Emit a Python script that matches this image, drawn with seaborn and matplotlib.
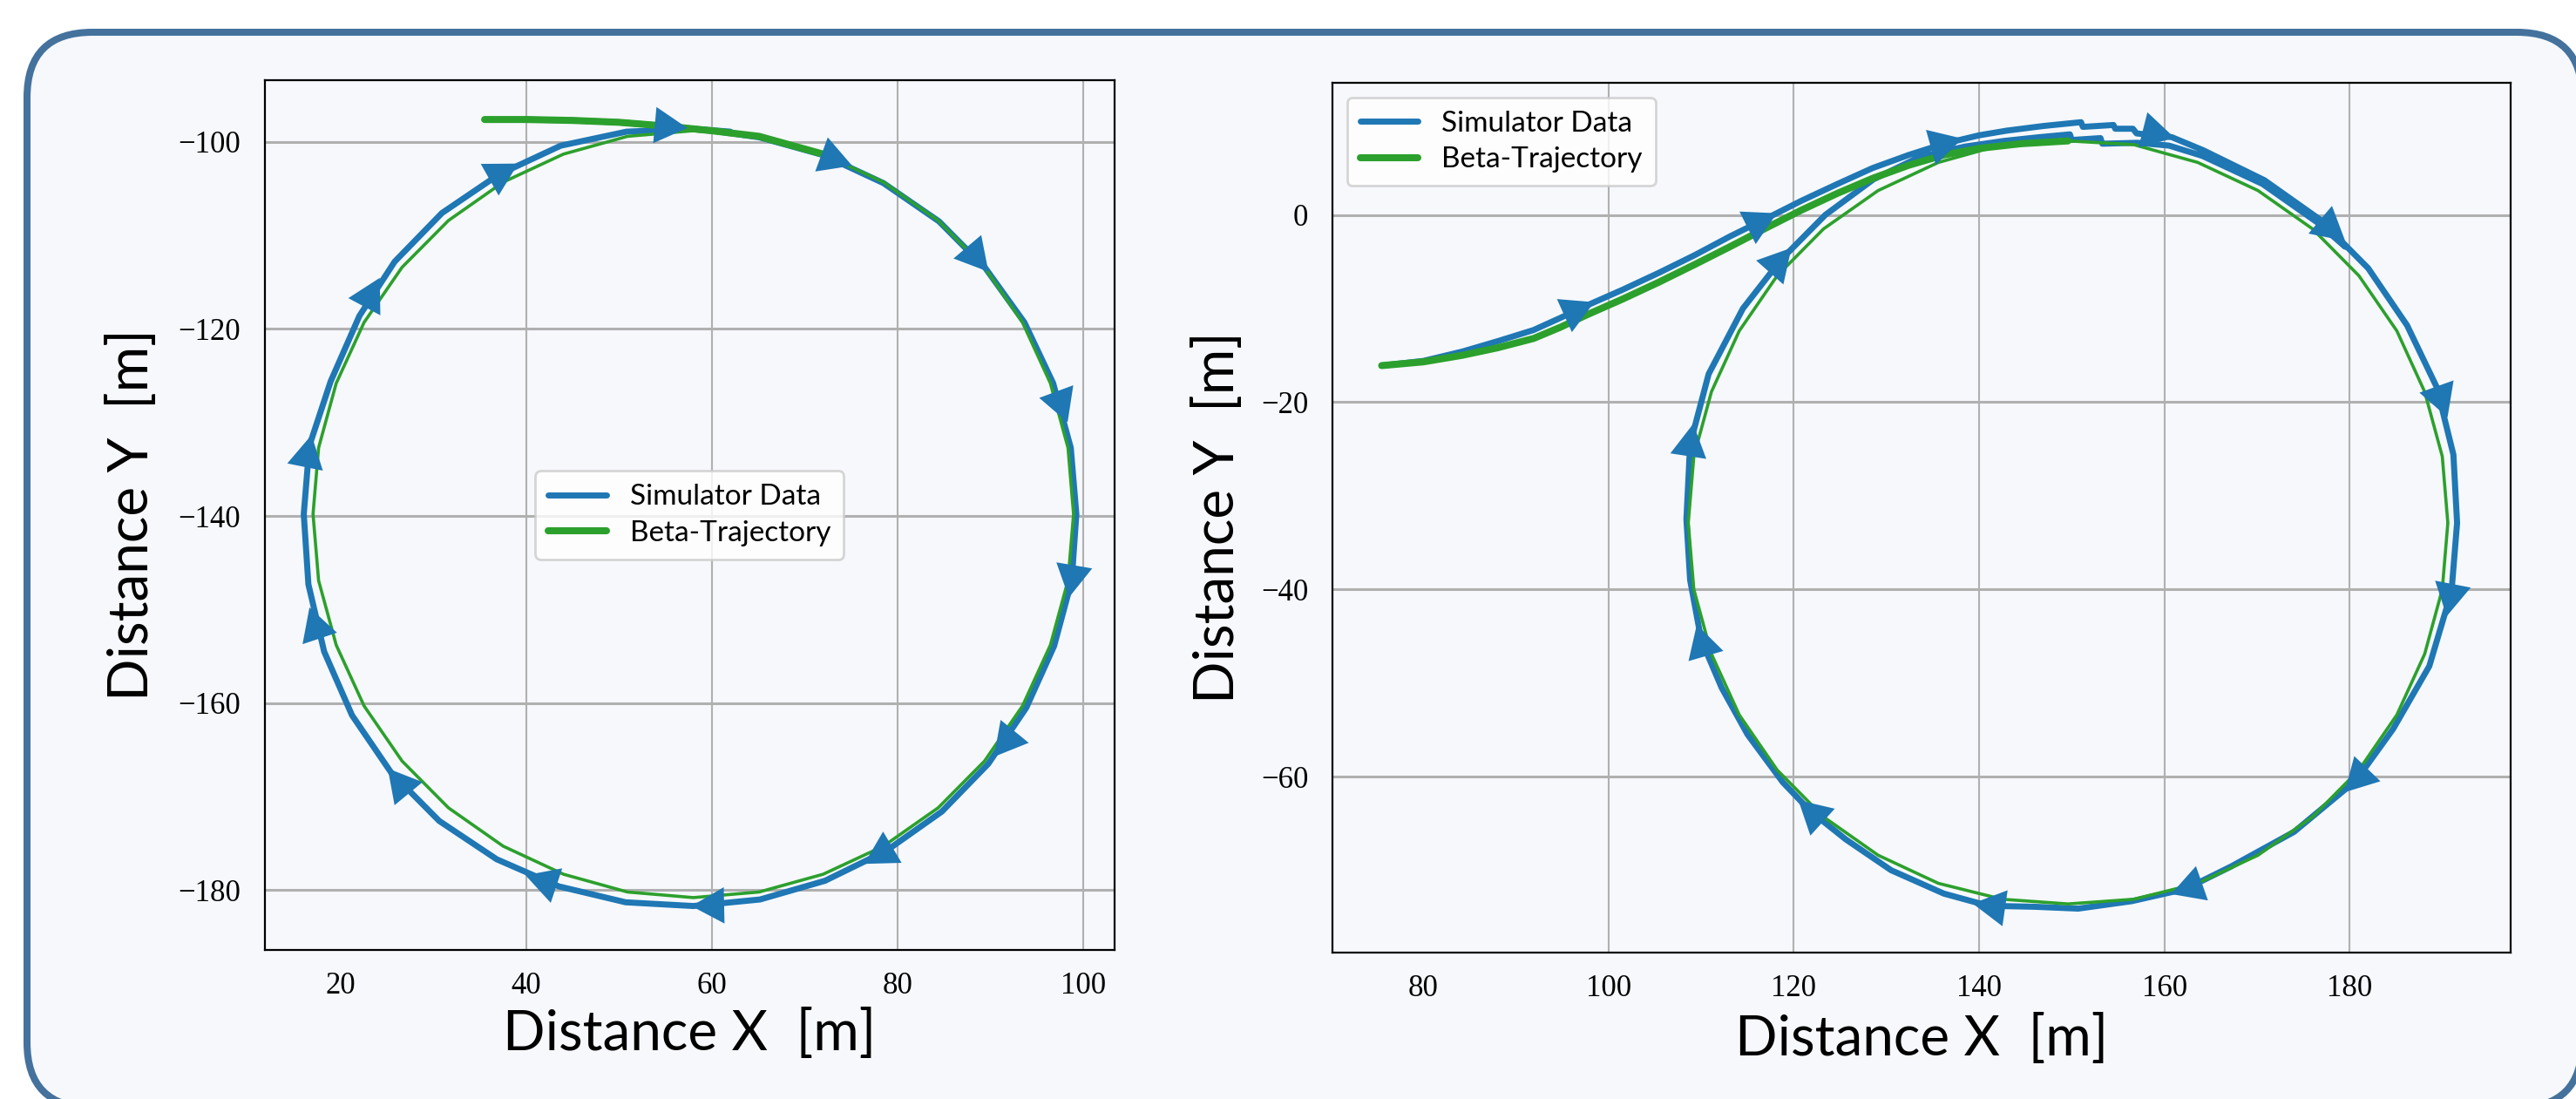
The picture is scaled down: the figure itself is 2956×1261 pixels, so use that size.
import numpy as np
import matplotlib.pyplot as plt
from matplotlib.patches import FancyBboxPatch
import seaborn as sns

BLUE = "#1f77b4"
GREEN = "#2ca02c"
PANEL = "#f6f8fc"
FRAME = "#44729d"

# ---- left run (closed loop, start at top) ----
left_sim_x = [40, 45, 50, 55, 60, 65.1, 72.0, 78.5, 84.5, 89.5, 93.7, 96.8, 98.7, 99.3,
              98.8, 96.9, 93.9, 89.8, 84.8, 78.8, 72.2, 65.2, 58.0, 50.7, 43.5, 36.8,
              30.6, 25.4, 21.2, 18.2, 16.5, 16.0, 16.6, 18.9, 22.0, 25.8, 30.9, 37.0,
              43.7, 50.8, 58.0, 62.0]
left_sim_y = [-97.6, -97.7, -97.9, -98.3, -98.8, -99.5, -101.4, -104.4, -108.5, -113.5,
              -119.3, -125.8, -132.7, -139.8, -146.9, -153.9, -160.5, -166.5, -171.6,
              -175.8, -179.0, -181.0, -181.7, -181.3, -179.6, -176.7, -172.6, -167.4,
              -161.3, -154.5, -147.3, -139.8, -132.5, -125.6, -118.6, -112.8, -107.6,
              -103.5, -100.4, -98.9, -98.6, -98.9]

left_beta_x = [35.5, 40, 45, 50, 55, 60, 65.1, 72.0,
               78.5, 84.4, 89.4, 93.5, 96.5, 98.4, 99.0, 98.4, 96.5, 93.5, 89.4, 84.4,
               78.5, 72.0, 65.1, 58.0, 50.9, 44.0, 37.5, 31.6, 26.6, 22.5, 19.5, 17.6,
               17.0, 17.6, 19.5, 22.5, 26.6, 31.6, 37.5, 44.0, 50.9, 58.0, 65.1]
left_beta_y = [-97.6, -97.6, -97.7, -97.9, -98.3, -98.8, -99.4, -101.3,
               -104.3, -108.4, -113.4, -119.3, -125.8, -132.7, -139.8, -146.9, -153.8,
               -160.3, -166.2, -171.2, -175.3, -178.3, -180.2, -180.8, -180.2, -178.3,
               -175.3, -171.2, -166.2, -160.3, -153.8, -146.9, -139.8, -132.7, -125.8,
               -119.3, -113.4, -108.4, -104.3, -101.3, -99.4, -98.8, -99.4]
left_beta_lead = 8

left_arrow_x = [55.7, 73.7, 88.7, 97.7, 98.5, 91.6, 77.7, 59.5, 41.5, 26.5, 17.7, 16.5, 23.7, 38.0]
left_arrow_y = [-98.0, -101.5, -112.6, -128.4, -147.0, -164.5, -176.0, -181.7, -179.0,
                -168.0, -151.2, -133.0, -116.2, -103.8]

left_xticks = [20, 40, 60, 80, 100]
left_yticks = [-180, -160, -140, -120, -100]

# ---- right run (S-shaped approach, then one lap) ----
right_sim_x = [75.5, 80, 84.2, 88, 91.9, 94.8, 97.6, 101.5, 105.4, 109.3, 113.1, 117, 120.8,
               124.7, 128.5, 132.4, 136.2, 140, 143, 147, 151, 151.2, 154.5, 154.7, 156.6,
               157, 160.8, 164.2, 170.8, 176.8, 182.0, 186.2, 189.4, 191.2, 191.6, 191.0,
               188.6, 184.7, 180.7, 174.0, 167.2, 162.3, 156.5, 150.7, 145.9, 141.0, 136.2,
               130.5, 125.6, 121.8, 118.8, 115.0, 112.2, 110.0, 108.8, 108.4, 108.8, 110.8,
               114.5, 118.6, 123.4, 128.6, 133.6, 138.5, 142.7, 146.5, 149.8, 150.0, 153.1,
               153.3, 157.1, 160.5, 164.1, 170.6, 176.5, 179.5]
right_sim_y = [-16.1, -15.6, -14.6, -13.5, -12.3, -11.0, -9.7, -8.0, -6.2, -4.3, -2.3, -0.4,
               1.5, 3.3, 5.0, 6.4, 7.6, 8.5, 9.0, 9.5, 9.9, 9.4, 9.6, 9.2, 9.2, 8.7, 8.3,
               6.9, 3.7, -0.5, -5.7, -11.8, -18.4, -25.6, -32.9, -40.2, -48.2, -54.9, -60.4,
               -65.9, -69.6, -72.0, -73.3, -74.1, -73.9, -73.8, -72.5, -70.0, -66.7, -63.7,
               -60.6, -55.5, -50.5, -45.4, -39.0, -32.5, -24.5, -17.0, -10.0, -4.8, 0.0, 3.8,
               6.2, 7.3, 7.9, 8.3, 8.6, 8.0, 8.2, 7.6, 7.7, 7.4, 6.3, 3.3, -0.8, -3.4]

right_beta_x = [75.5, 80, 84.2, 88, 91.9, 94.8, 97.6, 101.5, 105.4, 109.3, 113.1, 117, 120.8,
                124.7, 128.5, 132.4, 136.2, 140, 144.5, 149.6,
                156.7, 163.6, 170.1, 176.0, 181.0, 185.1, 188.1, 190.0, 190.6, 190.0, 188.1,
                185.1, 181.0, 176.0, 170.1, 163.6, 156.7, 149.6, 142.5, 135.6, 129.1, 123.2,
                118.2, 114.1, 111.1, 109.2, 108.6, 109.2, 111.1, 114.1, 118.2, 123.2, 129.1,
                135.6, 142.5, 149.6]
right_beta_y = [-16.1, -15.7, -15.0, -14.2, -13.2, -12.0, -10.7, -9.0, -7.2, -5.3, -3.4, -1.4,
                0.5, 2.3, 3.9, 5.3, 6.4, 7.1, 7.6, 7.9,
                7.5, 5.6, 2.6, -1.5, -6.5, -12.4, -18.9, -25.8, -32.9, -40.0, -46.9, -53.4,
                -59.3, -64.3, -68.4, -71.4, -73.1, -73.6, -73.1, -71.4, -68.4, -64.3, -59.3,
                -53.4, -46.9, -40.0, -32.9, -25.8, -18.9, -12.4, -6.5, -1.5, 2.6, 5.6, 7.5, 7.9]
right_beta_lead = 20

right_arrow_x = [97.2, 116.8, 136.8, 159.4, 178.2, 189.5, 190.3, 180.6, 162.3, 141.0, 121.8,
                 110.0, 108.9, 118.6]
right_arrow_y = [-10.7, -0.9, 6.8, 8.4, -1.7, -20.2, -41.1, -60.4, -71.9, -73.7, -63.6,
                 -45.4, -24.0, -4.8]

right_xticks = [80, 100, 120, 140, 160, 180]
right_yticks = [-60, -40, -20, 0]

sns.set_theme(style="whitegrid")
plt.rcParams.update({
    "figure.facecolor": "white",
    "axes.facecolor": PANEL,
    "axes.edgecolor": "black",
    "axes.linewidth": 0.8,
    "axes.labelcolor": "black",
    "text.color": "black",
    "xtick.color": "black",
    "ytick.color": "black",
    "grid.color": "#b0b0b0",
    "axes.unicode_minus": True,
})
plt.rcParams["font.family"] = ["Lato", "DejaVu Sans"]


def add_arrows(ax, path_x, path_y, at_x, at_y):
    pts = np.column_stack([path_x, path_y]).astype(float)
    for x, y in zip(at_x, at_y):
        i = int(np.argmin(np.hypot(pts[:, 0] - x, pts[:, 1] - y)))
        a = pts[max(i - 1, 0)]
        b = pts[min(i + 1, len(pts) - 1)]
        u = (b - a) / np.hypot(*(b - a))
        c = pts[i] + u * np.dot(np.array([x, y]) - pts[i], u)
        ax.annotate("", xy=c + 1.7 * u, xytext=c - 3.0 * u,
                    arrowprops=dict(arrowstyle="-|>,head_length=1.35,head_width=0.75",
                                    color=BLUE, lw=0, shrinkA=0, shrinkB=0,
                                    mutation_scale=10),
                    zorder=4)


def draw_run(ax, sim_x, sim_y, beta_x, beta_y, lead, arr_x, arr_y,
             xlim, ylim, xticks, yticks, legend_loc, ylab_x, xlab_y):
    sns.lineplot(x=sim_x, y=sim_y, sort=False, estimator=None, color=BLUE,
                 linewidth=2.5, solid_joinstyle="round", label="Simulator Data",
                 ax=ax, zorder=2)
    sns.lineplot(x=beta_x, y=beta_y, sort=False, estimator=None, color=GREEN,
                 linewidth=1.3, solid_joinstyle="round", ax=ax, zorder=3)
    sns.lineplot(x=beta_x[:lead], y=beta_y[:lead], sort=False, estimator=None,
                 color=GREEN, linewidth=2.9, solid_joinstyle="round",
                 label="Beta-Trajectory", ax=ax, zorder=3)
    add_arrows(ax, sim_x, sim_y, arr_x, arr_y)

    ax.set_xlim(*xlim)
    ax.set_ylim(*ylim)
    ax.set_xticks(xticks)
    ax.set_yticks(yticks)
    ax.set_axisbelow(True)
    ax.xaxis.grid(True, color="#b0b0b0", linewidth=0.75)
    ax.yaxis.grid(True, color="#b0b0b0", linewidth=1.1)
    for s in ax.spines.values():
        s.set_visible(True)
        s.set_color("black")
        s.set_linewidth(0.8)

    ax.tick_params(axis="x", length=3.6, width=0.8, pad=5.4, labelsize=12.5,
                   labelfontfamily="Liberation Serif")
    ax.tick_params(axis="y", length=6, width=0.8, pad=4, labelsize=12.5,
                   labelfontfamily="Liberation Serif")
    # the first x label sits without tick mark / grid line
    first = ax.xaxis.get_major_ticks()[0]
    first.tick1line.set_visible(False)
    first.gridline.set_visible(False)

    ax.set_xlabel("Distance X  [m]", fontsize=23, va="baseline")
    ax.xaxis.set_label_coords(0.5, xlab_y)
    ax.set_ylabel("Distance Y  [m]", fontsize=23, va="center", ha="center")
    ax.yaxis.set_label_coords(ylab_x, 0.5)

    ax.legend(loc=legend_loc, fontsize=12, frameon=True, fancybox=True,
              facecolor="white", framealpha=0.8, edgecolor="#cccccc",
              labelspacing=0.35, borderpad=0.45, handlelength=2.0)


fig = plt.figure(figsize=(14.78, 6.305), dpi=200)
fig.patches.append(FancyBboxPatch((0.155, -0.05), 14.66, 6.17,
                                  boxstyle="round,pad=0,rounding_size=0.375",
                                  transform=fig.dpi_scale_trans, facecolor=PANEL,
                                  edgecolor=FRAME, linewidth=2.9, zorder=-1))

ax1 = fig.add_axes([0.1028, 0.1356, 0.3298, 0.7914])
ax2 = fig.add_axes([0.5173, 0.1332, 0.4574, 0.7914])

draw_run(ax1, left_sim_x, left_sim_y, left_beta_x, left_beta_y, left_beta_lead,
         left_arrow_x, left_arrow_y, (11.8, 103.4), (-186.4, -93.4),
         left_xticks, left_yticks, "center", -0.156, -0.1152)
draw_run(ax2, right_sim_x, right_sim_y, right_beta_x, right_beta_y, right_beta_lead,
         right_arrow_x, right_arrow_y, (70.2, 197.4), (-78.8, 14.1),
         right_xticks, right_yticks, "upper left", -0.097, -0.1182)

fig.savefig("out.png", dpi=200)
